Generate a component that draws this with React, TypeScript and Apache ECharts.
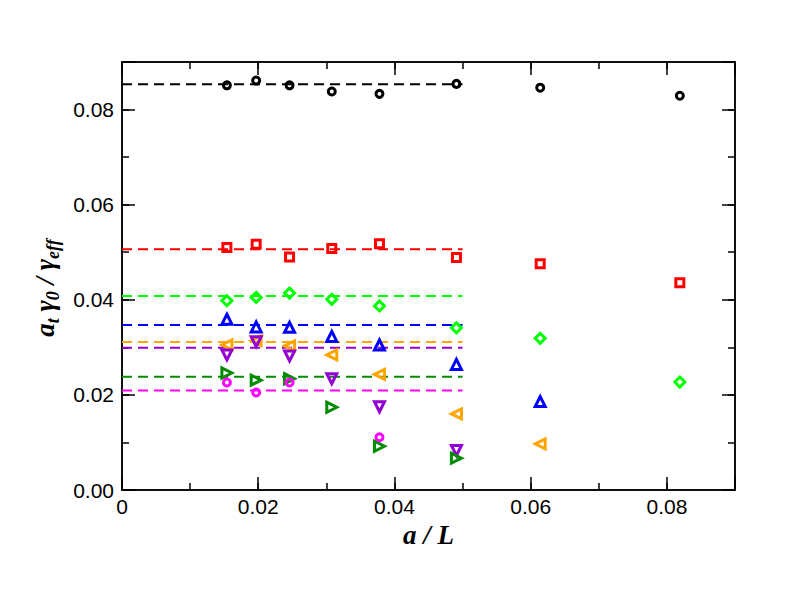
import React, { useEffect, useRef } from "react";
import * as echarts from "echarts";

// a/L values (x)
const aOverL = [0.0154, 0.0197, 0.0246, 0.0308, 0.0378, 0.0491, 0.0614, 0.0819];
const magentaX = [0.0154, 0.0197, 0.0246, 0.0378];

// series values (y), in order of aOverL
const blackVals = [0.0851, 0.0861, 0.0851, 0.0838, 0.0833, 0.0854, 0.0846, 0.0829];
const redVals = [0.051, 0.0517, 0.049, 0.0508, 0.0518, 0.0489, 0.0476, 0.0436];
const greenVals = [0.0398, 0.0405, 0.0414, 0.0401, 0.0387, 0.0341, 0.0319, 0.0227];
const blueVals = [0.0359, 0.0343, 0.0342, 0.0323, 0.0305, 0.0264, 0.0186];
const orangeVals = [0.0305, 0.0314, 0.0303, 0.0284, 0.0243, 0.016, 0.0097];
const violetVals = [0.0284, 0.0312, 0.0282, 0.0234, 0.0175, 0.0083];
const darkGreenVals = [0.0246, 0.0231, 0.0234, 0.0174, 0.0092, 0.0067];
const magentaVals = [0.0226, 0.0205, 0.0226, 0.0111];

// constant fits (dashed lines) over a/L in [0, fitEnd]
const fitValues = [0.0853, 0.0506, 0.0408, 0.0347, 0.0311, 0.0299, 0.0238, 0.0209];
const fitStart = 0;
const fitEnd = 0.05;

// axis ranges / ticks
const xMin = 0;
const xMax = 0.09;
const yMin = 0;
const yMax = 0.09;
const majorStep = 0.02;
const minorStep = 0.01;

const seriesDefs = [
  { xs: aOverL, vals: blackVals, color: "#000000", symbol: "circle", size: 7, rotate: 0 },
  { xs: aOverL, vals: redVals, color: "#ff0000", symbol: "rect", size: 8, rotate: 0 },
  { xs: aOverL, vals: greenVals, color: "#00ff00", symbol: "diamond", size: 10, rotate: 0 },
  { xs: aOverL, vals: blueVals, color: "#0000ff", symbol: "triangle", size: 10, rotate: 0 },
  { xs: aOverL, vals: orangeVals, color: "#ffa500", symbol: "triangle", size: 10, rotate: 90 },
  { xs: aOverL, vals: violetVals, color: "#9400d3", symbol: "triangle", size: 10, rotate: 180 },
  { xs: aOverL, vals: darkGreenVals, color: "#008b00", symbol: "triangle", size: 10, rotate: -90 },
  { xs: magentaX, vals: magentaVals, color: "#ff00ff", symbol: "circle", size: 7, rotate: 0 },
];

const tickFont = { fontFamily: "Liberation Sans, Arial, sans-serif", fontSize: 21, color: "#000" };
const titleBase = {
  fontFamily: "Liberation Serif, Times New Roman, serif",
  fontWeight: "bold" as const,
  fontStyle: "italic" as const,
  color: "#000",
};

function makeXAxis(position: string, interval: number, len: number, labels: boolean, name?: string) {
  return {
    type: "value",
    min: xMin,
    max: xMax,
    interval,
    position,
    axisLine: { show: true, onZero: false, lineStyle: { color: "#000", width: 1.5 } },
    axisTick: { show: true, inside: true, length: len, lineStyle: { color: "#000", width: 1.5 } },
    axisLabel: {
      show: labels,
      margin: 6,
      ...tickFont,
      formatter: (v: number) => {
        const k = Math.round(v / majorStep);
        if (Math.abs(v - k * majorStep) > 1e-9 || v > xMax - 1e-9) return "";
        return k === 0 ? "0" : v.toFixed(2);
      },
    },
    splitLine: { show: false },
    name: name || "",
    nameLocation: "middle",
    nameGap: 25,
    nameTextStyle: { ...titleBase, fontSize: 27 },
  };
}

function makeYAxis(position: string, interval: number, len: number, labels: boolean, withName?: boolean) {
  return {
    type: "value",
    min: yMin,
    max: yMax,
    interval,
    position,
    axisLine: { show: true, onZero: false, lineStyle: { color: "#000", width: 1.5 } },
    axisTick: { show: true, inside: true, length: len, lineStyle: { color: "#000", width: 1.5 } },
    axisLabel: {
      show: labels,
      margin: 8,
      ...tickFont,
      formatter: (v: number) => {
        const k = Math.round(v / majorStep);
        if (Math.abs(v - k * majorStep) > 1e-9 || v > yMax - 1e-9) return "";
        return v.toFixed(2);
      },
    },
    splitLine: { show: false },
    name: withName ? "{m|a}{s|t} {g|γ}{s|0} {m|/} {g|γ}{s|eff}" : "",
    nameLocation: "middle",
    nameRotate: 90,
    nameGap: 61,
    nameTextStyle: {
      ...titleBase,
      fontSize: 27,
      padding: [0, 24, 0, 0],
      rich: {
        m: { ...titleBase, fontSize: 27, lineHeight: 30, verticalAlign: "top" },
        g: { ...titleBase, fontSize: 27, lineHeight: 30, verticalAlign: "top" },
        s: { ...titleBase, fontSize: 18, lineHeight: 18, verticalAlign: "top", padding: [13, 0, 0, 0] },
      },
    },
  };
}

export default function App() {
  const ref = useRef<HTMLDivElement>(null);
  useEffect(() => {
    const chart = echarts.init(ref.current!, null, { renderer: "svg" });
    const series: any[] = [];
    seriesDefs.forEach((d, i) => {
      series.push({
        type: "line",
        xAxisIndex: 0,
        yAxisIndex: 0,
        data: [
          [fitStart, fitValues[i]],
          [fitEnd, fitValues[i]],
        ],
        showSymbol: false,
        symbol: "none",
        silent: true,
        lineStyle: { color: d.color, width: 2, type: [10, 6] },
        z: 2,
      });
    });
    seriesDefs.forEach((d) => {
      series.push({
        type: "scatter",
        xAxisIndex: 0,
        yAxisIndex: 0,
        data: d.vals.map((v, j) => [d.xs[j], v]),
        symbol: d.symbol,
        symbolSize: d.size,
        symbolRotate: d.rotate,
        itemStyle: { color: "rgba(255,255,255,0)", borderColor: d.color, borderWidth: 3, opacity: 1 },
        z: 3,
      });
    });
    chart.setOption({
      animation: false,
      backgroundColor: "#fff",
      grid: { left: 122, right: 57, top: 62, bottom: 122, containLabel: false },
      xAxis: [
        makeXAxis("bottom", majorStep, 13, true, "a / L"),
        makeXAxis("bottom", minorStep, 7, false),
        makeXAxis("top", majorStep, 13, false),
        makeXAxis("top", minorStep, 7, false),
      ],
      yAxis: [
        makeYAxis("left", majorStep, 13, true, true),
        makeYAxis("left", minorStep, 7, false),
        makeYAxis("right", majorStep, 13, false),
        makeYAxis("right", minorStep, 7, false),
      ],
      series,
    });
    return () => chart.dispose();
  }, []);
  return (
    <div
      ref={ref}
      style={{ position: "fixed", left: 0, top: 0, width: 792, height: 612, background: "#fff" }}
    />
  );
}
